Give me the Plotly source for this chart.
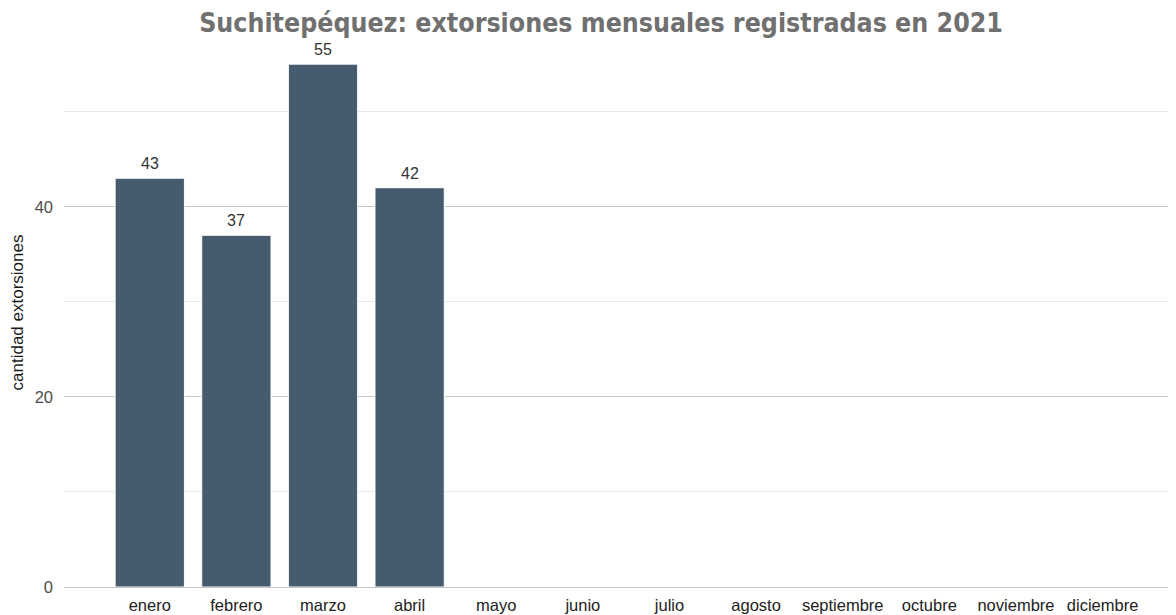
import plotly.graph_objects as go

months = ["enero", "febrero", "marzo", "abril", "mayo", "junio", "julio",
          "agosto", "septiembre", "octubre", "noviembre", "diciembre"]
values = [43, 37, 55, 42, 0, 0, 0, 0, 0, 0, 0, 0]
labels = ["43", "37", "55", "42", "", "", "", "", "", "", "", ""]

fig = go.Figure()
fig.add_trace(go.Bar(
    x=months, y=values, width=0.8,
    marker=dict(color="#465b6e", line=dict(color="white", width=1)),
    hoverinfo="x+y",
))
for m, v, t in zip(months, values, labels):
    if t:
        fig.add_annotation(x=m, y=v, text=t, showarrow=False, yanchor="bottom",
                           yshift=4, font=dict(family="Liberation Sans, Arial", size=16, color="#333333"))

fig.update_layout(
    width=1176, height=607,
    margin=dict(l=56, r=0, t=30, b=28),
    plot_bgcolor="white", paper_bgcolor="white",
    showlegend=False,
    title=dict(text="<b>Suchitepéquez: extorsiones mensuales registradas en 2021</b>",
               x=0.5043, xanchor="center", y=0.976, yanchor="middle",
               font=dict(family="DejaVu Sans Condensed, Liberation Sans Narrow, Roboto", size=26.5, color="#707070")),
    xaxis=dict(range=[-0.99, 11.94], showgrid=False, zeroline=False, showline=False,
               ticks="", tickfont=dict(family="Liberation Sans, Arial", size=16.5, color="#222222"),
               automargin=False, ticklabelstandoff=6),
    yaxis=dict(range=[0, 57.75], tickvals=[0, 20, 40], showgrid=True, gridcolor="#c6c6c6", gridwidth=1,
               minor=dict(tickvals=[10, 30, 50], showgrid=True, gridcolor="#e6e6e6", gridwidth=1),
               zeroline=True, zerolinecolor="#c6c6c6", zerolinewidth=1, showline=False,
               ticks="", tickfont=dict(family="Liberation Sans, Arial", size=16.5, color="#4d4d4d"),
               ticklabelstandoff=10, automargin=False,
               title=dict(text="cantidad extorsiones", standoff=7,
                          font=dict(family="Liberation Sans, Arial", size=17, color="#1a1a1a"))),
)
fig.write_html("out.html")
